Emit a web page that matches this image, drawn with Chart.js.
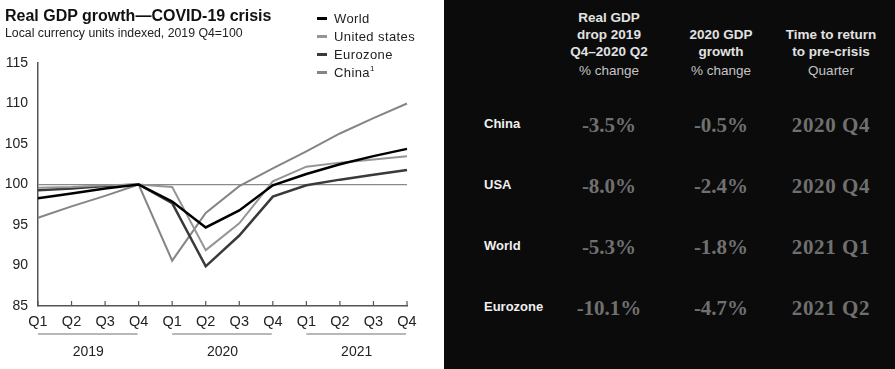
<!DOCTYPE html>
<html lang="en">

<head>
    <meta charset="UTF-8">
    <title>Real GDP growth—COVID-19 crisis</title>
    <script src="https://cdn.jsdelivr.net/npm/chart.js"></script>
    <style>
        body { margin: 0; width: 895px; height: 369px; position: relative; overflow: hidden; background: #fff; font-family: "Liberation Sans", Arial, sans-serif; }
        #left { position: absolute; left: 0; top: 0; width: 444px; height: 369px; }
        #panel { position: absolute; left: 444px; top: 0; width: 451px; height: 369px; background: #0b0b0b; }
        .t { position: absolute; white-space: nowrap; }
        .c { transform: translate(-50%, -50%); text-align: center; }
        .l { transform: translateY(-50%); }
    </style>
</head>

<body>
    <div id="left"><canvas id="gdpChart" width="444" height="369"></canvas></div>
    <div id="panel"></div>
    <div class="t" style="left:5px;top:7px;font-weight:bold;font-size:16px;color:#111">Real GDP growth—COVID-19 crisis</div>
    <div class="t" style="left:5px;top:26px;font-size:12.3px;color:#222">Local currency units indexed, 2019 Q4=100</div>

    <script>
        const quarters = ['Q1', 'Q2', 'Q3', 'Q4', 'Q1', 'Q2', 'Q3', 'Q4', 'Q1', 'Q2', 'Q3', 'Q4'];
        const years = ['2019', '2020', '2021'];
        const world = [98.3, 98.9, 99.5, 100, 97.9, 94.7, 96.8, 99.9, 101.3, 102.5, 103.5, 104.4];
        const unitedStates = [99.6, 99.7, 99.9, 100, 99.7, 91.9, 95.2, 100.4, 102.2, 102.7, 103.1, 103.5];
        const eurozone = [99.3, 99.5, 99.8, 100, 97.7, 89.9, 93.7, 98.5, 99.9, 100.6, 101.2, 101.8];
        const china = [95.9, 97.3, 98.6, 100, 90.6, 96.5, 99.8, 102.0, 104.1, 106.3, 108.2, 110.0];

        // table on the right
        const regions = ['China', 'USA', 'World', 'Eurozone'];
        const gdpDrop = ['-3.5%', '-8.0%', '-5.3%', '-10.1%'];
        const growth2020 = ['-0.5%', '-2.4%', '-1.8%', '-4.7%'];
        const returnQuarter = ['2020 Q4', '2020 Q4', '2021 Q1', '2021 Q2'];
        const headers = [
            ['Real GDP', 'drop 2019', 'Q4–2020 Q2'],
            ['2020 GDP', 'growth'],
            ['Time to return', 'to pre-crisis']
        ];
        const units = ['% change', '% change', 'Quarter'];

        const series = [
            { label: 'World', data: world, color: '#000000', width: 2.5 },
            { label: 'United states', data: unitedStates, color: '#959595', width: 2 },
            { label: 'Eurozone', data: eurozone, color: '#3a3a3a', width: 2.5 },
            { label: 'China¹', data: china, color: '#858585', width: 2 }
        ];

        function addText(txt, cls, style) {
            const d = document.createElement('div');
            d.className = 't ' + cls;
            d.textContent = txt;
            d.style.cssText = style;
            document.body.appendChild(d);
        }

        function buildTable() {
            const colX = [609, 721, 831];
            const rowY = [125, 186, 247, 308];
            headers.forEach((lines, c) => {
                const start = 51 - (lines.length - 1) * 17;
                lines.forEach((line, i) => {
                    addText(line, 'c', `left:${colX[c]}px;top:${start + i * 17}px;font-weight:bold;font-size:13.5px;color:#e2e2e2`);
                });
                addText(units[c], 'c', `left:${colX[c]}px;top:70px;font-size:13.5px;color:#c4c4c4`);
            });
            regions.forEach((r, i) => {
                addText(r, 'l', `left:484px;top:${rowY[i] - 2}px;font-weight:bold;font-size:13px;color:#f0f0f0`);
                [gdpDrop[i], growth2020[i], returnQuarter[i]].forEach((v, c) => {
                    const ls = c === 2 ? 'letter-spacing:0.6px;' : '';
                    addText(v, 'c', `left:${colX[c]}px;top:${rowY[i]}px;${ls}font-family:'Liberation Serif',serif;font-weight:bold;font-size:21px;color:#707070`);
                });
            });
        }

        function buildLegend() {
            series.forEach((s, i) => {
                const y = 18 + i * 18;
                const sym = document.createElement('div');
                sym.style.cssText = `position:absolute;left:317px;top:${y - 1.5}px;width:10px;height:3px;background:${s.color}`;
                document.body.appendChild(sym);
                const name = s.label.replace('¹', '');
                const d = document.createElement('div');
                d.className = 't l';
                d.style.cssText = `left:334px;top:${y}px;font-size:13px;letter-spacing:0.4px;color:#222`;
                d.innerHTML = name + (s.label.endsWith('¹') ? '<sup style="font-size:8px">1</sup>' : '');
                document.body.appendChild(d);
            });
        }

        const extras = {
            id: 'extras',
            afterDraw(chart) {
                const ctx = chart.ctx;
                const x = chart.scales.x;
                const area = chart.chartArea;
                ctx.save();
                ctx.strokeStyle = '#555';
                ctx.lineWidth = 1.2;
                // small tick marks pointing up from the axis
                quarters.forEach((q, i) => {
                    const px = x.getPixelForValue(i);
                    ctx.beginPath();
                    ctx.moveTo(px, area.bottom);
                    ctx.lineTo(px, area.bottom - 5);
                    ctx.stroke();
                });
                // year brackets
                ctx.strokeStyle = '#a0a0a0';
                ctx.lineWidth = 1.5;
                ctx.fillStyle = '#222';
                ctx.font = '14px "Liberation Sans", Arial, sans-serif';
                ctx.textAlign = 'center';
                ctx.textBaseline = 'middle';
                years.forEach((yr, g) => {
                    const x0 = x.getPixelForValue(g * 4);
                    const x1 = x.getPixelForValue(g * 4 + 3);
                    ctx.beginPath();
                    ctx.moveTo(x0, area.bottom + 28);
                    ctx.lineTo(x1 - 1, area.bottom + 28);
                    ctx.stroke();
                    ctx.fillText(yr, (x0 + x1) / 2, area.bottom + 46);
                });
                ctx.restore();
            }
        };

        function generateGraph() {
            const ctx = document.getElementById('gdpChart').getContext('2d');
            const config = {
                type: 'line',
                data: {
                    labels: quarters,
                    datasets: series.map(s => ({
                        label: s.label,
                        data: s.data,
                        borderColor: s.color,
                        borderWidth: s.width,
                        pointRadius: 0,
                        tension: 0,
                        fill: false
                    }))
                },
                options: {
                    responsive: false,
                    animation: false,
                    layout: { padding: { left: 0, top: 63, right: 37, bottom: 0 } },
                    scales: {
                        x: {
                            offset: false,
                            grid: { display: false, drawTicks: false, tickLength: 0 },
                            border: { color: '#555', width: 1.5 },
                            ticks: { color: '#222', padding: 7, maxRotation: 0, autoSkip: false, font: { family: 'Liberation Sans', size: 14.5 } },
                            afterFit: s => { s.height = 63; }
                        },
                        y: {
                            min: 85,
                            max: 115,
                            ticks: { stepSize: 5, color: '#222', padding: 10, font: { family: 'Liberation Sans', size: 14 } },
                            grid: {
                                drawTicks: false,
                                color: c => (c.tick && c.tick.value === 100) ? '#8a8a8a' : 'rgba(0,0,0,0)',
                                lineWidth: 1.2
                            },
                            border: { color: '#555', width: 1.5 },
                            afterFit: s => { s.width = 38; }
                        }
                    },
                    plugins: {
                        legend: { display: false },
                        tooltip: { enabled: false }
                    }
                },
                plugins: [extras]
            };
            new Chart(ctx, config);
        }

        document.addEventListener("DOMContentLoaded", () => {
            buildLegend();
            buildTable();
            generateGraph();
        });
    </script>
</body>

</html>
